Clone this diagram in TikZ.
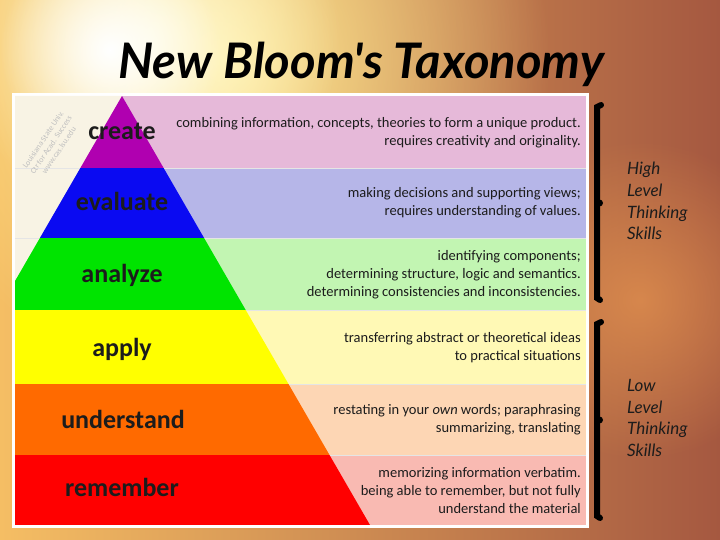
\documentclass[tikz,border=0pt]{standalone}
\usepackage{fontspec}
\setmainfont{Carlito}
\newfontfamily\titlefont{Lato}
\usetikzlibrary{fadings}
\tikzfading[name=glow, inner color=transparent!0, outer color=transparent!100]
\definecolor{dcreate}{HTML}{B000B0}
\definecolor{deval}{HTML}{0A0AF2}
\definecolor{danal}{HTML}{00E400}
\definecolor{dapply}{HTML}{FFFF00}
\definecolor{dunder}{HTML}{FF6A00}
\definecolor{dremem}{HTML}{FF0000}
\definecolor{lcreate}{HTML}{E6B9D9}
\definecolor{leval}{HTML}{B6B6E8}
\definecolor{lanal}{HTML}{C2F5B2}
\definecolor{lapply}{HTML}{FFF9B5}
\definecolor{lunder}{HTML}{FDD6B4}
\definecolor{lremem}{HTML}{F9BAB2}
\definecolor{cream}{HTML}{F8F3E4}
\definecolor{ink}{HTML}{1C1C1C}
\tikzset{
  lvl/.style={font=\fontsize{26}{28}\selectfont\bfseries, text=ink, inner sep=0pt, anchor=base},
  desc/.style={font=\fontsize{14.5}{17.8}\selectfont, text=ink, inner sep=0pt, anchor=east, align=right},
  hand/.style={font=\titlefont\itshape\fontsize{17}{21.7}\selectfont, text=ink, inner sep=0pt, anchor=north west, align=left},
  bar/.style={line width=6pt, black, line cap=round},
  sep/.style={white!80!gray, line width=0.8pt}
}
\begin{document}
\begin{tikzpicture}[x=1pt,y=-1pt]
\useasboundingbox (0,0) rectangle (720,540);
% background
\shade[left color={rgb,255:red,245;green,190;blue,100}, middle color={rgb,255:red,222;green,142;blue,72}, right color={rgb,255:red,165;green,88;blue,64}] (0,0) rectangle (720,540);
\fill[color={rgb,255:red,255;green,236;blue,150}, path fading=glow] (220,60) circle (330);
\fill[color={rgb,255:red,255;green,250;blue,215}, path fading=glow] (150,40) circle (190);
\fill[color=white, path fading=glow] (110,50) circle (110);
\fill[color={rgb,255:red,232;green,150;blue,80}, path fading=glow, opacity=0.7] (640,300) circle (160);
% panel
\fill[white] (12,93) rectangle (589,528);
\fill[cream] (15,96) rectangle (586,525);
% description bands
\fill[lcreate] (15,96) rectangle (586,168);
\fill[leval] (15,168) rectangle (586,238);
\fill[lanal] (15,238) rectangle (586,310);
\fill[lapply] (15,310) rectangle (586,384);
\fill[lunder] (15,384) rectangle (586,455);
\fill[lremem] (15,455) rectangle (586,525);
\fill[cream] (15,96) -- (122,96) -- (15,281) -- cycle;
\foreach \y in {168,238,310,384,455} \draw[sep] (15,\y) -- (586,\y);
% pyramid
\begin{scope}
\clip (122,96) -- (370,525) -- (-126,525) -- cycle;
\fill[dcreate] (15,96) rectangle (586,168);
\fill[deval] (15,168) rectangle (586,238);
\fill[danal] (15,238) rectangle (586,310);
\fill[dapply] (15,310) rectangle (586,384);
\fill[dunder] (15,384) rectangle (586,455);
\fill[dremem] (15,455) rectangle (586,525);
\end{scope}
% watermark
\node[rotate=56, text=black!25, font=\fontsize{8}{9.5}\selectfont, align=center, inner sep=0pt] (wm) at (51,145) {Louisiana State Univ.\\Ctr for Acad. Success\\www.cas.lsu.edu};
% level labels
\node[lvl] (create) at (122,140) {create};
\node[lvl] (evaluate) at (122,211) {evaluate};
\node[lvl] (analyze) at (122,282) {analyze};
\node[lvl] (apply) at (122,356) {apply};
\node[lvl] (understand) at (123,428) {understand};
\node[lvl] (remember) at (122,496) {remember};
% descriptions
\node[desc] (dc) at (581,132.5) {combining information, concepts, theories to form a unique product.\\requires creativity and originality.};
\node[desc] (de) at (581,203) {making decisions and supporting views;\\requires understanding of values.};
\node[desc] (da) at (581,274.5) {identifying components;\\determining structure, logic and semantics.\\determining consistencies and inconsistencies.};
\node[desc] (dp) at (581,347.5) {transferring abstract or theoretical ideas\\to practical situations};
\node[desc] (du) at (581,420) {restating in your \textit{own} words; paraphrasing\\summarizing, translating};
\node[desc] (dr) at (581,490.5) {memorizing information verbatim.\\being able to remember, but not fully\\understand the material};
% title
\node[font=\titlefont\bfseries\itshape\fontsize{49}{53}\selectfont, text=black, inner sep=0pt, anchor=base] (title) at (361,79) {New Bloom's Taxonomy};
% brackets
\draw[bar] (601,105) -- (597,107) -- (597,298) -- (600,300);
\fill (599.5,203) circle (3.5);
\draw[bar] (601,322) -- (597,324) -- (597,516) -- (600,518);
\fill (599.5,420) circle (3.5);
\node[hand] (high) at (627,162) {High\\Level\\Thinking\\Skills};
\node[hand] (low) at (627,379) {Low\\Level\\Thinking\\Skills};
\end{tikzpicture}
\end{document}
